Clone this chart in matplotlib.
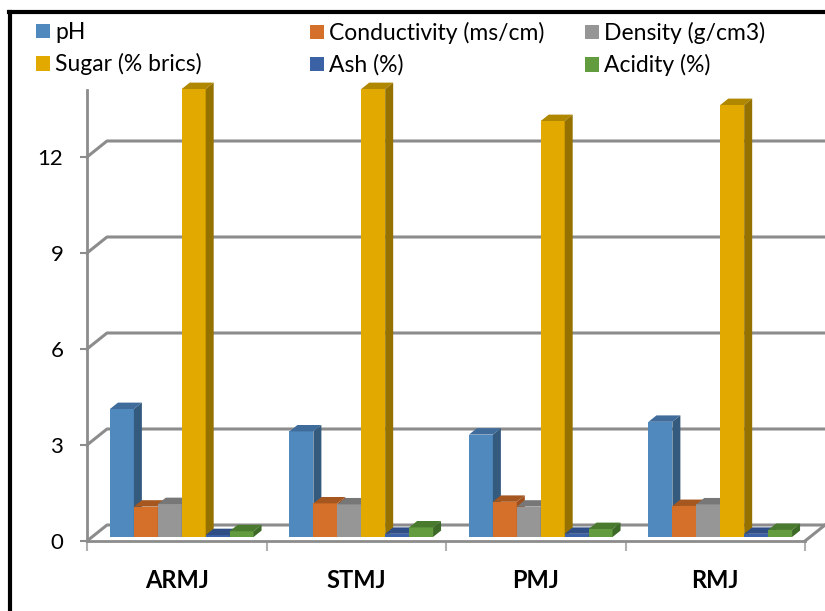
import matplotlib
matplotlib.use("Agg")
import matplotlib.pyplot as plt
import matplotlib.patches as mpatches
from matplotlib.lines import Line2D

# data
samples = ["ARMJ", "STMJ", "PMJ", "RMJ"]
series = ["pH", "Conductivity (ms/cm)", "Density (g/cm3)",
          "Sugar (% brics)", "Ash (%)", "Acidity (%)"]
ph = [4.0, 3.3, 3.2, 3.6]
conductivity = [0.95, 1.05, 1.1, 0.97]
density = [1.03, 1.02, 0.95, 1.02]
sugar = [14.0, 14.0, 13.0, 13.5]
ash = [0.06, 0.1, 0.1, 0.1]
acidity = [0.18, 0.3, 0.25, 0.22]
y_ticks = [0, 3, 6, 9, 12]

values = [ph, conductivity, density, sugar, ash, acidity]
# (front, top, side) shading for the fake 3d columns
colors = [("#4F89BD", "#3F6C9B", "#345A7E"),
          ("#D4702A", "#A5571F", "#9E4F1C"),
          ("#969696", "#777777", "#6E6E6E"),
          ("#E2AA00", "#B08700", "#957200"),
          ("#3C62A6", "#2E4E85", "#28437A"),
          ("#629C3E", "#4A7A2E", "#3D6A27")]

plt.rcParams['font.family'] = ['Lato', 'DejaVu Sans']
GRID = "#8C8C8C"

fig = plt.figure(figsize=(8.25, 6.11), dpi=100)
ax = fig.add_axes([87/825, (611-541)/611, (805-87)/825, (541-90)/611])
ax.set_xlim(-0.5, 3.5)
ax.set_ylim(0, 451/32)

# depth of the floor / back wall in data units
DX = 20/179.5
DY = 16/32

# back wall gridlines (with the little slanted bit on the side wall)
for v in y_ticks:
    ax.plot([-0.5, -0.5 + DX, 3.5 + DX], [v, v + DY, v + DY],
            color=GRID, lw=2.2, clip_on=False, zorder=1)
ax.plot([3.5, 3.5 + DX], [0, DY], color=GRID, lw=2.2, clip_on=False, zorder=1)

# columns
group = 0.8
w = group / len(series)
fx, fy = 0.25*DX, 0.25*DY
ddx, ddy = 0.4*DX, 0.4*DY
for i in range(len(samples)):
    for j, vals in enumerate(values):
        v = vals[i]
        x0 = i - group/2 + j*w + fx
        front, top, side = colors[j]
        z = 3 + i*10 + j
        ax.add_patch(mpatches.Rectangle((x0, fy), w, v, facecolor=front,
                                        edgecolor="none", clip_on=False, zorder=z))
        ax.add_patch(mpatches.Polygon([(x0, fy+v), (x0+w, fy+v),
                                       (x0+w+ddx, fy+v+ddy), (x0+ddx, fy+v+ddy)],
                                      closed=True, facecolor=top, edgecolor="none",
                                      clip_on=False, zorder=z))
        ax.add_patch(mpatches.Polygon([(x0+w, fy), (x0+w+ddx, fy+ddy),
                                       (x0+w+ddx, fy+v+ddy), (x0+w, fy+v)],
                                      closed=True, facecolor=side, edgecolor="none",
                                      clip_on=False, zorder=z))

for s in ["top", "right"]:
    ax.spines[s].set_visible(False)
for s in ["left", "bottom"]:
    ax.spines[s].set_color(GRID)
    ax.spines[s].set_linewidth(2)

ax.set_yticks(y_ticks)
ax.set_yticklabels([str(t) for t in y_ticks])
ax.tick_params(axis="y", length=5, width=1.5, color=GRID, pad=12, labelsize=16)
ax.set_xticks(range(len(samples)))
ax.set_xticklabels(samples, fontweight="bold")
ax.set_xticks([k - 0.5 for k in range(len(samples) + 1)], minor=True)
ax.tick_params(axis="x", which="major", length=0, pad=20, labelsize=17)
ax.tick_params(axis="x", which="minor", length=7, width=1.5, color="#B0B0B0")

# legend, three columns filled row by row
handles = [mpatches.Patch(facecolor=c[0], edgecolor="none") for c in colors]
col_x = [36, 310, 585]
for k in range(3):
    lg = fig.legend([handles[k], handles[k+3]], [series[k], series[k+3]],
                    loc="upper left", bbox_to_anchor=(col_x[k]/825, (611-22)/611),
                    frameon=False, fontsize=16.5, handlelength=0.6, handleheight=0.6,
                    handletextpad=0.25, labelspacing=0.45, borderpad=0,
                    borderaxespad=0)

# black frame on the left and top of the picture
fig.add_artist(Line2D([10/825, 10/825], [0, (611-11.5)/611], color="black", lw=3))
fig.add_artist(Line2D([8.5/825, 1], [(611-11.5)/611, (611-11.5)/611], color="black", lw=3))

fig.savefig("out.png", dpi=100)
